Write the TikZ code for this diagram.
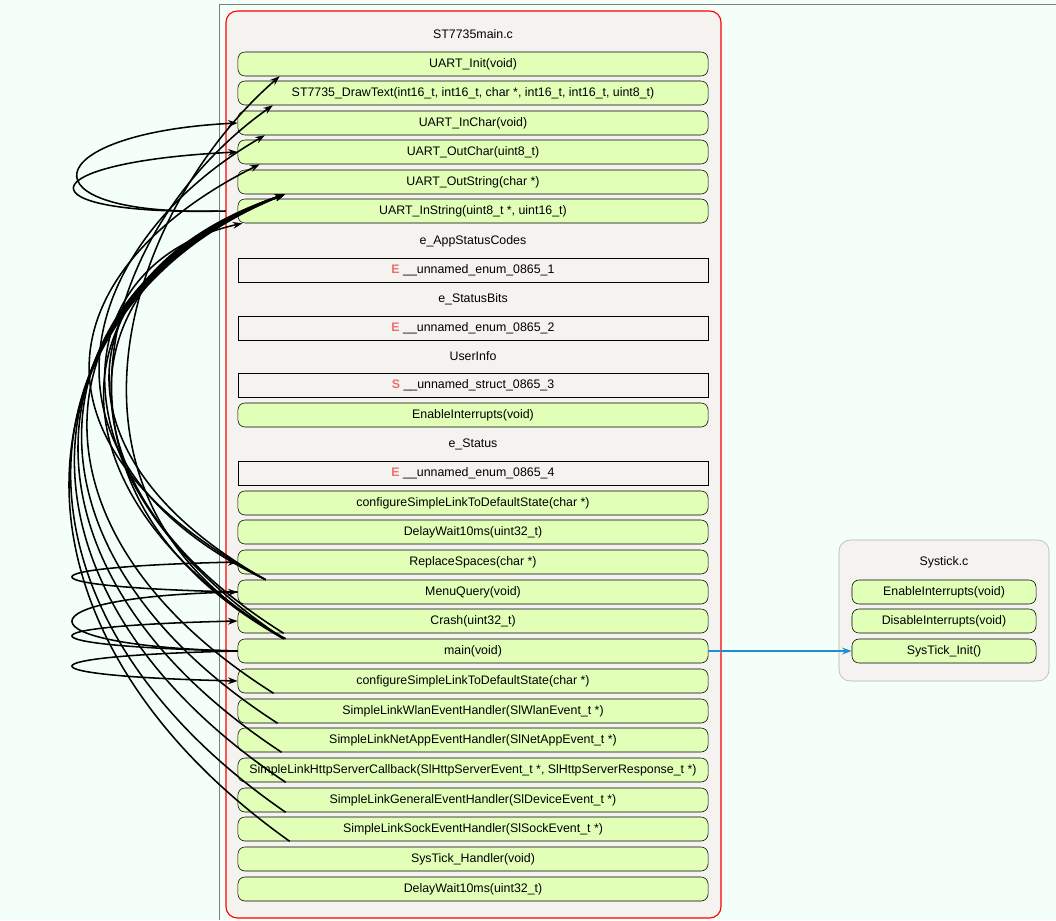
\documentclass[tikz,border=0pt]{standalone}
\usepackage{fontspec}
\setmainfont{Liberation Sans}
\usetikzlibrary{arrows.meta}
\definecolor{pagebg}{HTML}{F3FFF8}
\definecolor{filebg}{HTML}{F4F3EF}
\definecolor{funcfill}{HTML}{E2FFB8}
\definecolor{tagred}{HTML}{F07070}
\definecolor{callblue}{HTML}{1E90D0}
\tikzset{
  func/.style={draw=black, fill=funcfill, rounded corners=5pt, minimum width=11.75cm, minimum height=0.6cm, inner sep=0pt, font=\fontsize{8.8}{10}\selectfont},
  sfunc/.style={func, minimum width=4.6cm},
  type/.style={draw=black, fill=filebg, minimum width=11.75cm, minimum height=0.6cm, inner sep=0pt, font=\fontsize{8.8}{10}\selectfont},
  title/.style={font=\fontsize{8.8}{10}\selectfont},
  call/.style={line width=1.1pt, -{Stealth[length=2.4mm,width=1.7mm]}},
}
\newcommand{\tg}[1]{{\color{tagred}\textbf{#1}}\ }
\begin{document}
\begin{tikzpicture}[x=0.025cm, y=-0.025cm]
  % Page and file boxes
  \useasboundingbox (0,0) rectangle (1056,920);
  \fill[pagebg] (0,0) rectangle (1056,920);
  \draw[gray] (219,4) -- (1056,4);
  \draw[gray] (219,4) -- (219,920);
  \draw[red, thick, fill=filebg, rounded corners=8pt] (226,11) rectangle (721,918);
  \draw[gray!60, fill=filebg, rounded corners=8pt] (839,540) rectangle (1049,681);

  % ST7735main.c
  \node[title] (file) at (473,34) {ST7735main.c};
  \node[func] (uinit) at (473,64) {UART\_Init(void)};
  \node[func] (draw) at (473,93) {ST7735\_DrawText(int16\_t, int16\_t, char *, int16\_t, int16\_t, uint8\_t)};
  \node[func] (inchar) at (473,123) {UART\_InChar(void)};
  \node[func] (outchar) at (473,152) {UART\_OutChar(uint8\_t)};
  \node[func] (outstr) at (473,182) {UART\_OutString(char *)};
  \node[func] (instr) at (473,211) {UART\_InString(uint8\_t *, uint16\_t)};
  \node[title] (t1) at (473,241) {e\_AppStatusCodes};
  \node[type] (enum1) at (473,270) {\tg{E}\_\_unnamed\_enum\_0865\_1};
  \node[title] (t2) at (473,299) {e\_StatusBits};
  \node[type] (enum2) at (473,328) {\tg{E}\_\_unnamed\_enum\_0865\_2};
  \node[title] (t3) at (473,356) {UserInfo};
  \node[type] (struct3) at (473,385) {\tg{S}\_\_unnamed\_struct\_0865\_3};
  \node[func] (enint) at (473,415) {EnableInterrupts(void)};
  \node[title] (t4) at (473,444) {e\_Status};
  \node[type] (enum4) at (473,473) {\tg{E}\_\_unnamed\_enum\_0865\_4};
  \node[func] (conf) at (473,503) {configureSimpleLinkToDefaultState(char *)};
  \node[func] (delay) at (473,532) {DelayWait10ms(uint32\_t)};
  \node[func] (repl) at (473,562) {ReplaceSpaces(char *)};
  \node[func] (menu) at (473,592) {MenuQuery(void)};
  \node[func] (crash) at (473,621) {Crash(uint32\_t)};
  \node[func] (main) at (473,651) {main(void)};
  \node[func] (confb) at (473,681) {configureSimpleLinkToDefaultState(char *)};
  \node[func] (wlan) at (473,711) {SimpleLinkWlanEventHandler(SlWlanEvent\_t *)};
  \node[func] (netapp) at (473,740) {SimpleLinkNetAppEventHandler(SlNetAppEvent\_t *)};
  \node[func] (http) at (473,770) {SimpleLinkHttpServerCallback(SlHttpServerEvent\_t *, SlHttpServerResponse\_t *)};
  \node[func] (general) at (473,800) {SimpleLinkGeneralEventHandler(SlDeviceEvent\_t *)};
  \node[func] (sock) at (473,829) {SimpleLinkSockEventHandler(SlSockEvent\_t *)};
  \node[func] (systh) at (473,859) {SysTick\_Handler(void)};
  \node[func] (delayb) at (473,889) {DelayWait10ms(uint32\_t)};

  % Systick.c
  \node[title] (sfile) at (944,562) {Systick.c};
  \node[sfunc] (sen) at (944,592) {EnableInterrupts(void)};
  \node[sfunc] (sdis) at (944,621) {DisableInterrupts(void)};
  \node[sfunc] (sinit) at (944,651) {SysTick\_Init()};

  % Calls going up to the UART functions
  \draw[call] ([xshift=1.2cm]main.north west) .. controls +(-260,-140) and +(-150,130) .. ([xshift=1.05cm]uinit.south west);
  \draw[call] ([xshift=1.15cm]main.north west) .. controls +(-270,-150) and +(-170,120) .. ([xshift=0.88cm]draw.south west);
  \draw[call] ([xshift=0.7cm]menu.north west) .. controls +(-250,-120) and +(-190,110) .. ([xshift=0.68cm]inchar.south west);
  \draw[call] ([xshift=0.7cm]menu.north west) .. controls +(-260,-140) and +(-200,100) .. ([xshift=0.55cm]outchar.south west);
  \draw[call] ([xshift=0.7cm]menu.north west) .. controls +(-230,-130) and +(-210,70) .. ([xshift=1.18cm]outstr.south west);
  \draw[call] ([xshift=1.15cm]crash.south west) .. controls +(-240,-150) and +(-220,75) .. ([xshift=1.18cm]outstr.south west);
  \draw[call] ([xshift=1.15cm]main.north west) .. controls +(-250,-150) and +(-230,80) .. ([xshift=1.18cm]outstr.south west);
  \draw[call] ([xshift=1.15cm]main.north west) .. controls +(-240,-160) and +(-180,40) .. ([xshift=0.12cm]instr.south west);
  \draw[call] ([xshift=0.9cm]confb.south west) .. controls +(-270,-170) and +(-240,85) .. ([xshift=1.18cm]outstr.south west);
  \draw[call] ([xshift=1.0cm]wlan.south west) .. controls +(-280,-180) and +(-250,90) .. ([xshift=1.18cm]outstr.south west);
  \draw[call] ([xshift=1.1cm]netapp.south west) .. controls +(-290,-190) and +(-255,95) .. ([xshift=1.18cm]outstr.south west);
  \draw[call] ([xshift=1.2cm]http.south west) .. controls +(-300,-200) and +(-260,100) .. ([xshift=1.18cm]outstr.south west);
  \draw[call] ([xshift=1.2cm]general.south west) .. controls +(-305,-210) and +(-265,105) .. ([xshift=1.18cm]outstr.south west);
  \draw[call] ([xshift=1.3cm]sock.south west) .. controls +(-310,-220) and +(-270,110) .. ([xshift=1.18cm]outstr.south west);

  % Loops on the left side
  \draw[call] ([xshift=-0.5cm]instr.west) .. controls +(-200,5) and +(-200,10) .. (inchar.west);
  \draw[call] ([xshift=-0.3cm]instr.west) .. controls +(-210,5) and +(-210,10) .. (outchar.west);
  \draw[call] (menu.west) .. controls +(-220,-5) and +(-220,5) .. (repl.west);
  \draw[call] (main.west) .. controls +(-220,-5) and +(-220,5) .. (menu.west);
  \draw[call] (main.west) .. controls +(-220,-5) and +(-220,5) .. (crash.west);
  \draw[call] (main.west) .. controls +(-220,5) and +(-220,-5) .. (confb.west);

  % Call into Systick.c
  \draw[call, callblue] (main.east) -- (sinit.west);
\end{tikzpicture}
\end{document}
